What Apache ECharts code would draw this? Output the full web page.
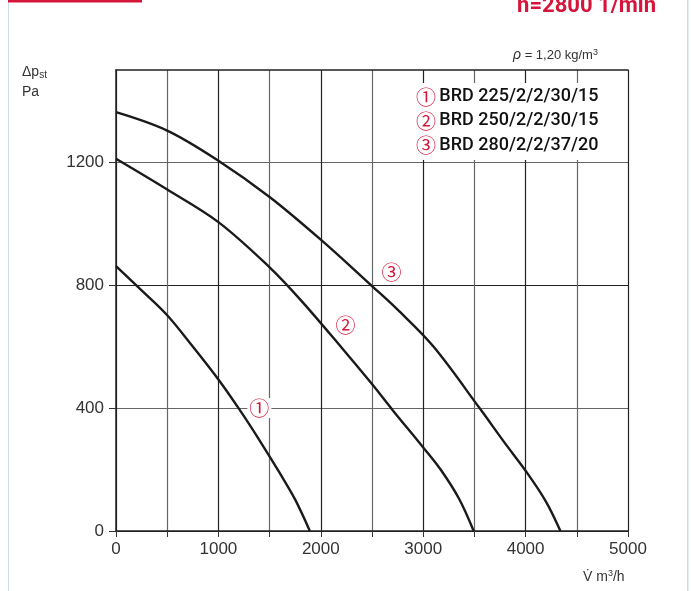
<!DOCTYPE html>
<html>
<head>
<meta charset="utf-8">
<script src="https://cdn.jsdelivr.net/npm/echarts@6/dist/echarts.min.js"></script>
<style>
  html, body { margin: 0; padding: 0; background: #fff; }
  #chart { width: 691px; height: 591px; }
</style>
</head>
<body>
<div id="chart"></div>
<script>
    // fan curves, [airflow m3/h, static pressure Pa]
    const models = ['BRD 225/2/2/30/15', 'BRD 250/2/2/30/15', 'BRD 280/2/2/37/20'];
    const marks = ['①', '②', '③'];
    const curve1 = [[0, 862], [250, 783], [500, 702], [750, 600], [1000, 493], [1200, 398],
        [1400, 296], [1600, 188], [1750, 102], [1893, 0]];
    const curve2 = [[0, 1211], [500, 1111], [1000, 1005], [1500, 858], [1800, 753], [2200, 598],
        [2500, 478], [2700, 394], [3000, 272], [3170, 200], [3350, 105], [3493, 0]];
    const curve3 = [[0, 1363], [500, 1303], [1000, 1205], [1500, 1087], [2000, 948], [2500, 797],
        [2750, 720], [3100, 600], [3550, 400], [3800, 285], [4000, 196], [4200, 95], [4340, 0]];
    const xLabels = [0, 1000, 2000, 3000, 4000, 5000];
    const yLabels = [0, 400, 800, 1200];

    const red = '#d6153a';
    const font = 'Liberation Sans, Arial, sans-serif';
    const chart = echarts.init(document.getElementById('chart'));

    function curveSeries (data, idx, at) {
        return {
            name: models[idx],
            type: 'line',
            data: data,
            smooth: 0.35,
            showSymbol: false,
            lineStyle: { color: '#1a1a1a', width: 2.4 },
            z: 3,
            markPoint: {
                symbol: 'circle',
                symbolSize: 1,
                itemStyle: { color: 'rgba(0,0,0,0)' },
                label: {
                    show: true,
                    position: 'inside',
                    formatter: marks[idx],
                    color: red,
                    fontSize: 20,
                    fontFamily: 'Noto Sans CJK SC',
                    backgroundColor: '#fff',
                    padding: [0, 2]
                },
                data: [{ coord: at }]
            }
        };
    }

    const legendRows = models.map(function (m, i) {
        return {
            type: 'text',
            left: 416,
            top: 87 + i * 24,
            style: {
                text: '{c|' + marks[i] + '} {t|' + m + '}',
                rich: {
                    c: { fill: red, fontSize: 20, fontFamily: 'Noto Sans CJK SC' },
                    t: { fill: '#111', fontSize: 18, fontWeight: 500, fontFamily: 'Roboto, sans-serif' }
                }
            },
            z: 20
        };
    });

    const plain = function (v) { return String(v); };

    const option = {
        backgroundColor: '#fff',
        animation: false,
        grid: { left: 116, right: 63, top: 70, bottom: 60 },
        xAxis: [{
            type: 'value',
            min: 0,
            max: 5000,
            interval: 500,
            axisLine: { show: true, lineStyle: { color: '#222', width: 1.5 } },
            axisTick: { show: true, length: 6, lineStyle: { color: '#333' } },
            axisLabel: { customValues: xLabels, formatter: plain, color: '#333', fontSize: 17, fontFamily: font, margin: 10 },
            splitLine: { show: true, lineStyle: { color: ['#222', '#666'], width: 1.2 } }
        }, {
            // top frame line
            type: 'value',
            position: 'top',
            min: 0,
            max: 5000,
            axisLine: { show: true, lineStyle: { color: '#222', width: 1.5 } },
            axisTick: { show: false },
            axisLabel: { show: false },
            splitLine: { show: false }
        }],
        yAxis: {
            type: 'value',
            min: 0,
            max: 1500,
            interval: 200,
            axisLine: { show: true, lineStyle: { color: '#222', width: 1.5 } },
            axisTick: { show: true, length: 7, customValues: yLabels, lineStyle: { color: '#333' } },
            axisLabel: { customValues: yLabels, formatter: plain, color: '#333', fontSize: 17, fontFamily: font, margin: 12 },
            splitLine: { show: true, lineStyle: { color: ['#222', '#666'], width: 1.2 } }
        },
        series: [
            curveSeries(curve1, 0, [1400, 400]),
            curveSeries(curve2, 1, [2240, 670]),
            curveSeries(curve3, 2, [2690, 840])
        ],
        graphic: [
            // page frame
            { type: 'rect', shape: { x: 8, y: 0, width: 1, height: 591 }, style: { fill: '#c9dcec' } },
            { type: 'rect', shape: { x: 687, y: 0, width: 1.5, height: 591 }, style: { fill: '#c9dcec' } },
            { type: 'rect', shape: { x: 8, y: 0, width: 134, height: 2.5 }, style: { fill: red } },
            {
                type: 'text', right: 35, top: -5,
                style: { text: 'n=2800 1/min', fill: red, fontSize: 22, fontWeight: 'bold', fontFamily: 'Roboto, sans-serif' }
            },
            {
                type: 'text', left: 513, top: 48,
                style: {
                    text: '{i|ρ} = 1,20 kg/m{s|3}',
                    fill: '#333', fontSize: 13, fontFamily: font,
                    rich: { i: { fontStyle: 'italic', fontSize: 14, fill: '#333' }, s: { fontSize: 9, verticalAlign: 'top', padding: [0, 0, 6, 0], fill: '#333' } }
                }
            },
            {
                type: 'text', left: 22, top: 65,
                style: { text: 'Δp{s|st}', fill: '#333', fontSize: 14, fontFamily: font, rich: { s: { fontSize: 10, padding: [6, 0, 0, 0], fill: '#333' } } }
            },
            { type: 'text', left: 22, top: 85, style: { text: 'Pa', fill: '#333', fontSize: 14, fontFamily: font } },
            {
                type: 'text', left: 583, top: 569,
                style: { text: 'V̇ m{s|3}/h', fill: '#333', fontSize: 14, fontFamily: font, rich: { s: { fontSize: 9, padding: [0, 0, 7, 0], fill: '#333' } } }
            },
            // legend box
            { type: 'rect', shape: { x: 416, y: 83, width: 191, height: 77 }, style: { fill: '#fff' }, z: 10 }
        ].concat(legendRows)
    };

    chart.setOption(option);
</script>
</body>
</html>
